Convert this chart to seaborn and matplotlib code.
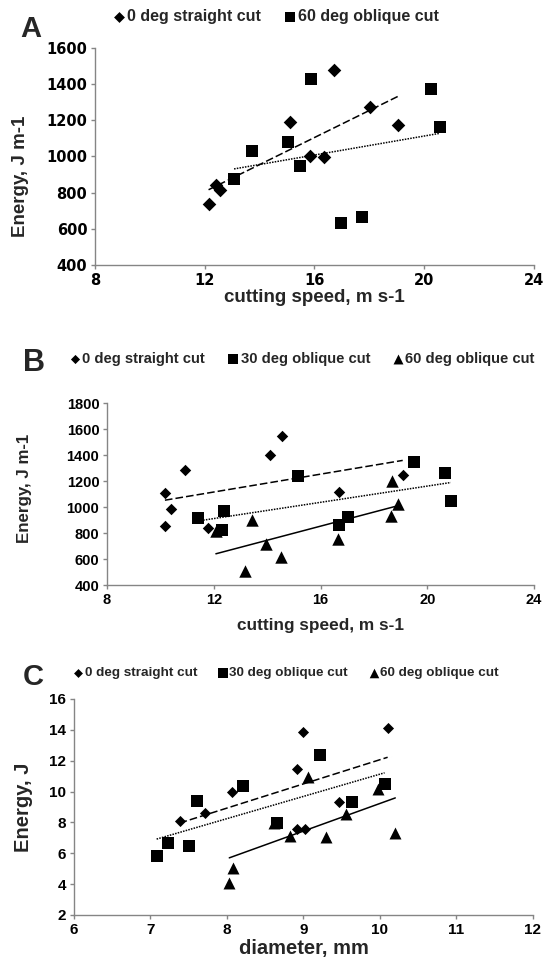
import matplotlib
matplotlib.use('Agg')
import matplotlib.pyplot as plt
import seaborn as sns
import pandas as pd

# Painel A - energia por comprimento vs velocidade de corte
a_straight_x = [12.14, 12.42, 12.54, 15.10, 15.84, 16.35, 16.72, 18.02, 19.04]
a_straight_y = [738, 843, 815, 1188, 1004, 996, 1476, 1273, 1174]
a_ob60_x = [13.07, 13.73, 15.04, 15.48, 15.87, 16.97, 17.74, 20.26, 20.56]
a_ob60_y = [878, 1033, 1078, 948, 1428, 634, 666, 1371, 1161]

# Painel B
b_straight_x = [10.17, 10.40, 10.17, 10.92, 11.77, 14.12, 14.56, 16.70, 19.08]
b_straight_y = [1106, 983, 855, 1283, 842, 1403, 1544, 1117, 1245]
b_ob30_x = [11.40, 12.40, 12.32, 15.15, 16.70, 17.02, 19.51, 20.66, 20.88]
b_ob30_y = [919, 969, 821, 1237, 863, 922, 1347, 1265, 1045]
b_ob60_x = [12.08, 13.18, 13.44, 13.94, 14.52, 16.66, 18.65, 18.69, 18.92]
b_ob60_y = [815, 507, 899, 712, 618, 753, 930, 1201, 1027]

# Painel C - energia vs diametro
c_straight_x = [7.38, 7.71, 8.06, 8.91, 8.92, 8.99, 9.02, 9.46, 10.10]
c_straight_y = [8.12, 8.59, 9.99, 7.55, 11.46, 13.88, 7.55, 9.35, 14.14]
c_ob30_x = [7.08, 7.23, 7.50, 7.61, 8.21, 8.65, 9.21, 9.64, 10.06]
c_ob30_y = [5.83, 6.65, 6.49, 9.39, 10.36, 7.94, 12.37, 9.30, 10.47]
c_ob60_x = [8.03, 8.08, 8.62, 8.83, 9.06, 9.30, 9.56, 9.98, 10.20]
c_ob60_y = [4.05, 5.03, 7.99, 7.12, 10.92, 7.03, 8.55, 10.15, 7.29]

lab_straight = '0 deg straight cut'
lab_30 = '30 deg oblique cut'
lab_60 = '60 deg oblique cut'

sns.set_theme(style='ticks')
plt.rcParams['font.family'] = ['Liberation Sans', 'DejaVu Sans']
plt.rcParams['font.weight'] = 'bold'

GRAY = '#858585'
DASH = (0, (5, 2))
DOT = (0, (1, 0.8))

fig = plt.figure(figsize=(5.49, 9.6), dpi=100)
axA = fig.add_axes([0.173, 0.724, 0.7996, 0.226])
axB = fig.add_axes([0.1949, 0.3906, 0.7778, 0.1896])
axC = fig.add_axes([0.1348, 0.0469, 0.836, 0.225])


def serie(ax, x, y, marker, s, ls, label):
    df = pd.DataFrame({'x': x, 'y': y})
    sns.regplot(data=df, x='x', y='y', ax=ax, ci=None, truncate=True, label=label,
                marker=marker,
                scatter_kws={'s': s, 'color': 'black', 'alpha': 1, 'linewidths': 0},
                line_kws={'color': 'black', 'lw': 1.1, 'linestyle': ls})


def estilo(ax, xt, yt, tick_family, tick_size):
    ax.set_xlim(xt[0], xt[-1])
    ax.set_ylim(yt[0], yt[-1])
    ax.set_xticks(xt)
    ax.set_yticks(yt)
    sns.despine(ax=ax)
    for sp in ['left', 'bottom']:
        ax.spines[sp].set_color(GRAY)
        ax.spines[sp].set_linewidth(1.0)
    ax.tick_params(direction='out', length=3, width=1, color=GRAY, pad=2.5)
    plt.setp(ax.get_xticklabels() + ax.get_yticklabels(), family=tick_family,
             weight='bold', size=tick_size, color='black')


# ---- A
serie(axA, a_straight_x, a_straight_y, 'D', 48, DASH, lab_straight)
serie(axA, a_ob60_x, a_ob60_y, 's', 82, DOT, lab_60)
estilo(axA, [8, 12, 16, 20, 24], list(range(400, 1601, 200)), 'DejaVu Sans', 10.5)
axA.set_xlabel('cutting speed, m s-1', fontsize=13.5, fontweight='bold', va='center')
axA.set_ylabel('Energy, J m-1', fontsize=13.5, fontweight='bold', va='center')
axA.xaxis.set_label_coords(0.5, -0.152)
axA.yaxis.set_label_coords(-0.169, 0.41)
axA.legend(loc='center left', bbox_to_anchor=(0.205, 0.9823), bbox_transform=fig.transFigure,
           ncol=2, frameon=False, borderpad=0, borderaxespad=0, handlelength=0.8,
           handletextpad=0.1, columnspacing=1.45, markerscale=0.8,
           prop={'family': 'Liberation Sans', 'weight': 'bold', 'size': 11.5})

# ---- B
serie(axB, b_straight_x, b_straight_y, 'D', 34, DASH, lab_straight)
serie(axB, b_ob30_x, b_ob30_y, 's', 70, DOT, lab_30)
serie(axB, b_ob60_x, b_ob60_y, '^', 80, '-', lab_60)
estilo(axB, [8, 12, 16, 20, 24], list(range(400, 1801, 200)), 'Liberation Sans', 10.5)
axB.set_xlabel('cutting speed, m s-1', fontsize=12.4, fontweight='bold', va='center')
axB.set_ylabel('Energy, J m-1', fontsize=12.2, fontweight='bold', va='center')
axB.xaxis.set_label_coords(0.5, -0.22)
axB.yaxis.set_label_coords(-0.194, 0.533)
axB.legend(loc='center left', bbox_to_anchor=(0.126, 0.626), bbox_transform=fig.transFigure,
           ncol=3, frameon=False, borderpad=0, borderaxespad=0, handlelength=0.8,
           handletextpad=0.1, columnspacing=1.5, markerscale=0.8,
           prop={'family': 'Liberation Sans', 'weight': 'bold', 'size': 10.6})

# ---- C
serie(axC, c_straight_x, c_straight_y, 'D', 32, DASH, lab_straight)
serie(axC, c_ob30_x, c_ob30_y, 's', 66, DOT, lab_30)
serie(axC, c_ob60_x, c_ob60_y, '^', 74, '-', lab_60)
estilo(axC, list(range(6, 13)), list(range(2, 17, 2)), 'Liberation Sans', 11)
axC.set_xlabel('diameter, mm', fontsize=14.5, fontweight='bold', va='center')
axC.set_ylabel('Energy, J', fontsize=14.5, fontweight='bold', va='center')
axC.xaxis.set_label_coords(0.5, -0.153)
axC.yaxis.set_label_coords(-0.111, 0.5)
axC.legend(loc='center left', bbox_to_anchor=(0.132, 0.299), bbox_transform=fig.transFigure,
           ncol=3, frameon=False, borderpad=0, borderaxespad=0, handlelength=0.8,
           handletextpad=0.1, columnspacing=1.5, markerscale=0.8,
           prop={'family': 'Liberation Sans', 'weight': 'bold', 'size': 9.7})

# letras dos paineis
for letra, (px, py), tam in [('A', (31, 29), 21), ('B', (34, 363), 22), ('C', (33, 677), 21)]:
    fig.text(px / 549, 1 - py / 960, letra, ha='center', va='center',
             fontsize=tam, fontweight='bold', family='Liberation Sans')

fig.savefig('out.png', dpi=100)
